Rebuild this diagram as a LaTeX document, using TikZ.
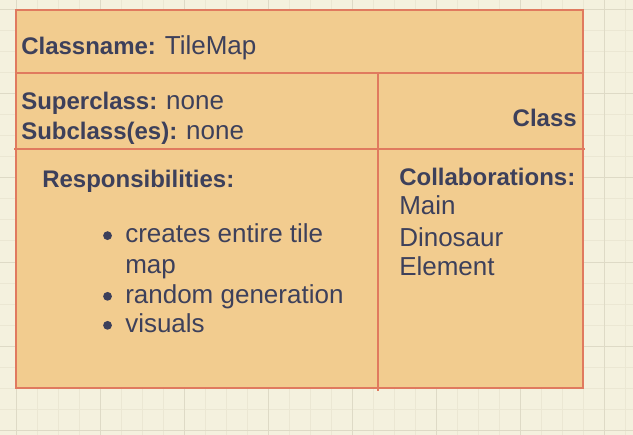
\documentclass[tikz,border=0pt]{standalone}
\usepackage{fontspec}
\setmainfont{Liberation Sans}
\usetikzlibrary{positioning}
\definecolor{paper}{HTML}{F4F1DE}
\definecolor{gridminor}{HTML}{EBE7D3}
\definecolor{gridmajor}{HTML}{DEDAC6}
\definecolor{cardfill}{HTML}{F2CC8F}
\definecolor{cardline}{HTML}{E07A5F}
\definecolor{ink}{HTML}{3D405B}
\newcommand{\crchead}{\fontsize{18}{22}\selectfont\bfseries}
\newcommand{\crcbody}{\fontsize{19.5}{22.8}\selectfont\mdseries}
\tikzset{
  head/.style={inner sep=0pt, text=ink, font=\crchead, anchor=base west},
  body/.style={inner sep=0pt, text=ink, font=\crcbody, anchor=base west},
  dot/.style={circle, fill=ink, inner sep=0pt, minimum size=6.6pt},
  cardrule/.style={draw=cardline, line width=1.6pt}
}
\begin{document}
\begin{tikzpicture}[x=0.75pt, y=-0.75pt]
%% ---- paper and grid ----
\fill[paper] (0,0) rectangle (633,435);
\useasboundingbox (0,0) rectangle (633,435);
\foreach \gx in {16,37,...,632} \draw[gridminor, line width=0.75pt] (\gx,0) -- (\gx,435);
\foreach \gy in {10,31,...,434} \draw[gridminor, line width=0.75pt] (0,\gy) -- (633,\gy);
\foreach \gx in {16,100,...,632} \draw[gridmajor, line width=0.75pt] (\gx,0) -- (\gx,435);
\foreach \gy in {10,94,...,434} \draw[gridmajor, line width=0.75pt] (0,\gy) -- (633,\gy);

%% ---- card frame ----
\draw[cardrule, fill=cardfill] (16,10) rectangle (583,388);
\draw[cardrule] (16,73) -- (583,73);
\draw[cardrule] (14,149) -- (585,149);
\draw[cardrule] (378,73) -- (378,391);

%% ---- header rows ----
\node[head] (cname) at (21,54.5) {Classname: {\crcbody TileMap}};
\node[head] (superc) at (21,109.5) {Superclass: {\crcbody none}};
\node[head] (subc) at (21,139.5) {Subclass(es): {\crcbody none}};
\node[head, anchor=base east] (kind) at (577,126.3) {Class};

%% ---- responsibilities ----
\node[head] (resp) at (42,188) {Responsibilities:};
\node[body] (r1) at (125,242.3) {creates entire tile};
\node[body] (r1b) at (125,273.3) {map};
\node[body] (r2) at (125,303) {random generation};
\node[body] (r3) at (125,332) {visuals};
\foreach \r in {r1,r2,r3}
  \node[dot] at ([xshift=-13.1pt, yshift=5pt]\r.base west) {};

%% ---- collaborations ----
\node[head] (collab) at (399,185.5) {Collaborations:};
\node[body] (cmain) at (399,214.5) {Main};
\node[body] (cdino) at (399,246.3) {Dinosaur};
\node[body] (celem) at (399,275.3) {Element};
\end{tikzpicture}
\end{document}
